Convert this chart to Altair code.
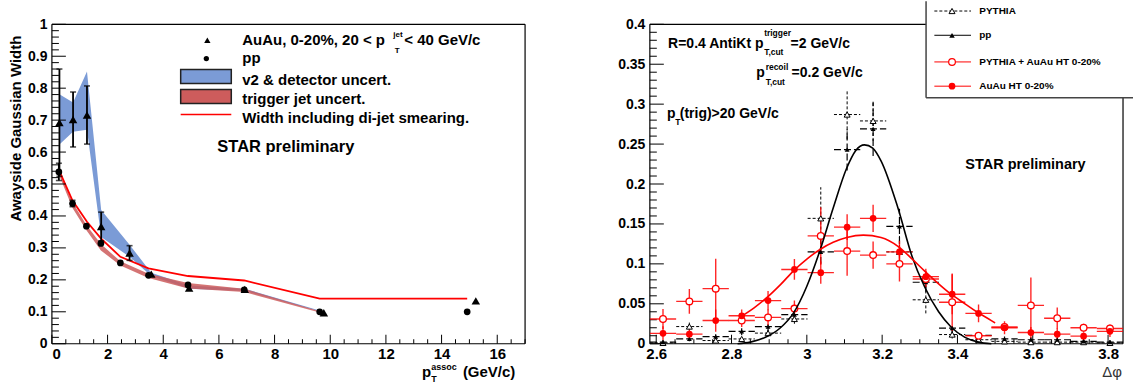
import altair as alt
import pandas as pd

# ---------------- left panel: away-side Gaussian width vs pT(assoc) ----------------
auau_pt = [0.27, 0.76, 1.26, 1.77, 2.79, 3.57, 4.93, 6.93, 9.77, 15.23]
auau_width = [0.692, 0.702, 0.716, 0.367, 0.284, 0.218, 0.174, 0.170, 0.097, 0.134]
auau_err = [0.168, 0.086, 0.091, 0.045, 0.023, 0.0, 0.0, 0.0, 0.0, 0.0]

pp_pt = [0.25, 0.74, 1.24, 1.76, 2.46, 3.47, 4.89, 6.91, 9.62, 14.92]
pp_width = [0.538, 0.439, 0.368, 0.314, 0.253, 0.214, 0.184, 0.169, 0.100, 0.100]
pp_err = [0.027, 0.010, 0.0, 0.0, 0.0, 0.0, 0.0, 0.0, 0.0, 0.0]

v2_pt = [0.27, 0.76, 1.26, 1.77, 2.79, 3.57, 4.93, 6.93, 9.77]
v2_lo = [0.624, 0.664, 0.670, 0.334, 0.272, 0.212, 0.172, 0.165, 0.098]
v2_hi = [0.781, 0.755, 0.852, 0.419, 0.310, 0.222, 0.182, 0.172, 0.100]

trig_pt = [0.25, 0.74, 1.24, 1.76, 2.46, 3.47, 4.89, 6.91, 9.62]
trig_lo = [0.530, 0.425, 0.355, 0.292, 0.245, 0.206, 0.173, 0.162, 0.098]
trig_hi = [0.545, 0.443, 0.372, 0.312, 0.258, 0.219, 0.190, 0.172, 0.102]

smear_pt = [0.27, 0.74, 1.26, 1.76, 2.46, 3.47, 4.89, 6.91, 9.62, 14.92]
smear_width = [0.540, 0.448, 0.382, 0.330, 0.272, 0.236, 0.212, 0.198, 0.141, 0.141]

# ---------------- right panel: delta-phi distributions ----------------
dphi = [2.618, 2.688, 2.758, 2.827, 2.897, 2.967, 3.037, 3.107, 3.176,
        3.246, 3.316, 3.386, 3.456, 3.525, 3.595, 3.665, 3.735, 3.805]
bin_half = 0.0349
pythia_y = [0.001, 0.0215, 0.004, 0.006, 0.0133, 0.031, 0.157, 0.287, 0.279,
            0.115, 0.055, 0.0115, 0.005, 0.003, 0.002, 0.002, 0.002, 0.001]
pythia_err = [0.001, 0.005, 0.002, 0.003, 0.004, 0.006, 0.039, 0.031, 0.025,
              0.020, 0.017, 0.005, 0.002, 0.002, 0.001, 0.001, 0.001, 0.001]
ppd_y = [0.002, 0.006, 0.009, 0.0155, 0.0215, 0.0365, 0.115, 0.243, 0.269,
         0.147, 0.077, 0.0195, 0.0104, 0.006, 0.005, 0.005, 0.003, 0.002]
ppd_err = [0.002, 0.003, 0.003, 0.005, 0.006, 0.007, 0.015, 0.026, 0.034,
           0.022, 0.012, 0.006, 0.004, 0.003, 0.003, 0.003, 0.002, 0.002]
emb_y = [0.031, 0.053, 0.069, 0.029, 0.033, 0.044, 0.135, 0.116, 0.111,
         0.100, 0.081, 0.052, 0.010, 0.021, 0.048, 0.032, 0.020, 0.019]
emb_err = [0.0125, 0.0156, 0.0375, 0.008, 0.010, 0.010, 0.036, 0.031, 0.017,
           0.022, 0.010, 0.036, 0.004, 0.005, 0.035, 0.0135, 0.005, 0.005]
ht_y = [0.013, 0.012, 0.029, 0.035, 0.054, 0.093, 0.089, 0.146, 0.157,
        0.115, 0.084, 0.062, 0.038, 0.020, 0.014, 0.012, 0.0095, 0.0155]
ht_err = [0.009, 0.006, 0.014, 0.008, 0.012, 0.013, 0.014, 0.016, 0.017,
          0.014, 0.010, 0.025, 0.011, 0.008, 0.007, 0.007, 0.005, 0.007]

# fit curves
fit_pp_x = [2.816, 2.85, 2.89, 2.93, 2.964, 3.00, 3.035, 3.07, 3.106, 3.13, 3.153,
            3.175, 3.197, 3.242, 3.279, 3.313, 3.35, 3.383, 3.42, 3.456, 3.49]
fit_pp_y = [0.000, 0.002, 0.008, 0.020, 0.038, 0.072, 0.117, 0.170, 0.220, 0.242, 0.249,
            0.245, 0.229, 0.170, 0.110, 0.071, 0.040, 0.021, 0.008, 0.002, 0.000]
fit_aa_x = [2.825, 2.86, 2.892, 2.93, 2.964, 3.00, 3.035, 3.07, 3.106, 3.15,
            3.197, 3.242, 3.28, 3.313, 3.35, 3.383, 3.42, 3.451, 3.49, 3.50]
fit_aa_y = [0.034, 0.045, 0.057, 0.074, 0.091, 0.106, 0.118, 0.127, 0.133, 0.136,
            0.133, 0.122, 0.106, 0.091, 0.075, 0.062, 0.050, 0.040, 0.029, 0.026]

W, H = 474, 320
FONT = "Liberation Sans"
ONE = pd.DataFrame({"a": [0]})


def txt(s, x, y, size, align="left", baseline="alphabetic", angle=0,
        weight="bold", color="black"):
    kw = dict(align=align, baseline=baseline, fontSize=size, font=FONT,
              fontWeight=weight, color=color)
    if angle:
        kw["angle"] = angle
    return alt.Chart(pd.DataFrame({"t": [s]})).mark_text(**kw).encode(
        x=alt.value(x), y=alt.value(y), text="t:N")


def frame():
    c = alt.Chart(ONE)
    kw = dict(color="black", strokeWidth=1.2)
    return [
        c.mark_rule(**kw).encode(x=alt.value(0), x2=alt.value(W), y=alt.value(0)),
        c.mark_rule(**kw).encode(x=alt.value(0), x2=alt.value(W), y=alt.value(H)),
        c.mark_rule(**kw).encode(x=alt.value(0), y=alt.value(0), y2=alt.value(H)),
        c.mark_rule(**kw).encode(x=alt.value(W), y=alt.value(0), y2=alt.value(H)),
    ]


def xticks(X, vals, length):
    return alt.Chart(pd.DataFrame({"v": vals})).mark_rule(color="black", strokeWidth=1).encode(
        x=X("v"), y=alt.value(H), y2=alt.value(H - length))


def yticks(Y, vals, length):
    return alt.Chart(pd.DataFrame({"v": vals})).mark_rule(color="black", strokeWidth=1).encode(
        y=Y("v"), x=alt.value(0), x2=alt.value(length))


# ======================= LEFT PANEL =======================
lx_scale = alt.Scale(domain=[0, 17], nice=False, zero=False)
ly_scale = alt.Scale(domain=[0, 1], nice=False, zero=False)
lx_axis = alt.Axis(values=[0, 2, 4, 6, 8, 10, 12, 14, 16], format="d", title=None,
                   labelFontSize=15, labelPadding=3)
ly_axis = alt.Axis(values=[0, 0.1, 0.2, 0.3, 0.4, 0.5, 0.6, 0.7, 0.8, 0.9, 1.0], title=None,
                   labelExpr="datum.value == 0 ? '0' : datum.value == 1 ? '1' : format(datum.value, '.1f')",
                   labelFontSize=14, labelPadding=5)


def LX(f):
    return alt.X(f, type="quantitative", scale=lx_scale, axis=lx_axis)


def LY(f):
    return alt.Y(f, type="quantitative", scale=ly_scale, axis=ly_axis)


auau_df = pd.DataFrame({"x": auau_pt, "y": auau_width, "e": auau_err})
auau_df["lo"] = auau_df.y - auau_df.e
auau_df["hi"] = auau_df.y + auau_df.e
auau_eb = auau_df[auau_df.e > 0]
pp_df = pd.DataFrame({"x": pp_pt, "y": pp_width, "e": pp_err})
pp_df["lo"] = pp_df.y - pp_df.e
pp_df["hi"] = pp_df.y + pp_df.e
pp_eb = pp_df[pp_df.e > 0]
v2_df = pd.DataFrame({"x": v2_pt, "lo": v2_lo, "hi": v2_hi})
trig_df = pd.DataFrame({"x": trig_pt, "lo": trig_lo, "hi": trig_hi})
smear_df = pd.DataFrame({"x": smear_pt, "y": smear_width})

left_layers = [
    alt.Chart(v2_df).mark_area(color="#7b9bd6", opacity=1).encode(x=LX("x"), y=LY("lo"), y2="hi"),
    alt.Chart(trig_df).mark_area(color="#cd5c5c", opacity=0.85).encode(x=LX("x"), y=LY("lo"), y2="hi"),
    alt.Chart(smear_df).mark_line(color="#ff0000", strokeWidth=1.8).encode(x=LX("x"), y=LY("y")),
]
for d in (auau_eb, pp_eb):
    left_layers += [
        alt.Chart(d).mark_rule(color="black", strokeWidth=1.8).encode(x=LX("x"), y=LY("lo"), y2="hi"),
        alt.Chart(d).mark_tick(color="black", orient="horizontal", size=6, thickness=1.6).encode(x=LX("x"), y=LY("lo")),
        alt.Chart(d).mark_tick(color="black", orient="horizontal", size=6, thickness=1.6).encode(x=LX("x"), y=LY("hi")),
    ]
left_layers += [
    alt.Chart(pp_df).mark_circle(color="black", size=45, opacity=1).encode(x=LX("x"), y=LY("y")),
    alt.Chart(auau_df).mark_point(shape="triangle-up", filled=True, color="black", size=72, opacity=1).encode(x=LX("x"), y=LY("y")),
]
left_layers += frame()
left_layers += [
    xticks(LX, [0, 2, 4, 6, 8, 10, 12, 14, 16], 9),
    xticks(LX, [i * 0.5 for i in range(35) if i % 4], 4.5),
    yticks(LY, [i * 0.1 for i in range(11)], 14),
    yticks(LY, [round(i * 0.02, 3) for i in range(51) if i % 5], 7),
]
# legend of the left panel
c1 = alt.Chart(ONE)
left_layers += [
    c1.mark_point(shape="triangle-up", filled=True, color="black", size=40, opacity=1).encode(x=alt.value(155.7), y=alt.value(16)),
    c1.mark_circle(color="black", size=28, opacity=1).encode(x=alt.value(154.7), y=alt.value(34.3)),
    c1.mark_rect(fill="#7b9bd6", stroke="#222222", strokeWidth=1.5).encode(
        x=alt.value(129), x2=alt.value(179.7), y=alt.value(45.3), y2=alt.value(59.3)),
    c1.mark_rect(fill="#cd5c5c", stroke="#222222", strokeWidth=1.5).encode(
        x=alt.value(129), x2=alt.value(179.7), y=alt.value(65.3), y2=alt.value(79.3)),
    c1.mark_rule(color="#ff0000", strokeWidth=1.6).encode(
        x=alt.value(129), x2=alt.value(179.7), y=alt.value(90.3)),
    txt("AuAu, 0-20%, 20 < p", 190.7, 21, 15),
    txt("jet", 342, 13, 8),
    txt("T", 343.5, 28.5, 8),
    txt("< 40 GeV/c", 353, 21, 15),
    txt("pp", 190.7, 39, 15),
    txt("v2 & detector uncert.", 190.7, 61, 15),
    txt("trigger jet uncert.", 190.7, 79.7, 15),
    txt("Width including di-jet smearing.", 190.7, 99.3, 15),
    txt("STAR preliminary", 165.7, 128, 16.5),
    txt("Awayside Gaussian Width", -36, 104.5, 15, align="center", baseline="middle", angle=270),
    txt("p", 370.7, 353, 15),
    txt("assoc", 380, 346.5, 9),
    txt("T", 380, 358, 9),
    txt("(GeV/c)", 411.7, 353, 15),
]
left = alt.layer(*left_layers).properties(width=W, height=H)

# ======================= RIGHT PANEL =======================
rx_scale = alt.Scale(domain=[2.5831, 3.8397], nice=False, zero=False)
ry_scale = alt.Scale(domain=[0, 0.4], nice=False, zero=False)
rx_axis = alt.Axis(values=[2.6, 2.8, 3.0, 3.2, 3.4, 3.6, 3.8], format="~g", title=None,
                   labelFontSize=15, labelPadding=3)
ry_axis = alt.Axis(values=[0, 0.05, 0.1, 0.15, 0.2, 0.25, 0.3, 0.35, 0.4], format="~g", title=None,
                   labelFontSize=14, labelPadding=5)


def RX(f):
    return alt.X(f, type="quantitative", scale=rx_scale, axis=rx_axis)


def RY(f):
    return alt.Y(f, type="quantitative", scale=ry_scale, axis=ry_axis)


def series_df(yv, ev):
    d = pd.DataFrame({"x": dphi, "y": yv, "e": ev})
    d["lo"] = d.y - d.e
    d["hi"] = d.y + d.e
    d["xl"] = d.x - bin_half
    d["xr"] = d.x + bin_half
    return d


py_df = series_df(pythia_y, pythia_err)
ppd_df = series_df(ppd_y, ppd_err)
emb_df = series_df(emb_y, emb_err)
ht_df = series_df(ht_y, ht_err)


def errbars(d, color, width, dash=None, opacity=1.0):
    kw = dict(color=color, strokeWidth=width, opacity=opacity, clip=True)
    if dash:
        kw["strokeDash"] = dash
    return [
        alt.Chart(d).mark_rule(**kw).encode(x=RX("xl"), x2="xr", y=RY("y")),
        alt.Chart(d).mark_rule(**kw).encode(x=RX("x"), y=RY("lo"), y2="hi"),
    ]


right_layers = frame()
right_layers += [
    xticks(RX, [2.6, 2.8, 3.0, 3.2, 3.4, 3.6, 3.8], 9),
    xticks(RX, [round(2.6 + 0.05 * i, 3) for i in range(25) if i % 4], 4.5),
    yticks(RY, [round(i * 0.05, 3) for i in range(9)], 14),
    yticks(RY, [round(i * 0.01, 3) for i in range(41) if i % 5], 7),
]
right_layers += errbars(py_df, "black", 1, [3, 2])
right_layers += errbars(ppd_df, "black", 1.2, [7, 3])
right_layers += errbars(emb_df, "#ff0000", 1.4, None, 0.85)
right_layers += errbars(ht_df, "#ff0000", 1.4, None, 0.85)
right_layers += [
    alt.Chart(py_df).mark_point(shape="triangle-up", filled=False, fill="white", color="black",
                                strokeWidth=1, size=36, opacity=1).encode(x=RX("x"), y=RY("y")),
    alt.Chart(ppd_df).mark_point(shape="triangle-up", filled=True, color="black", size=24,
                                 opacity=1).encode(x=RX("x"), y=RY("y")),
    alt.Chart(emb_df).mark_point(shape="circle", filled=False, fill="white", color="#ff0000",
                                 strokeWidth=1.3, size=45, opacity=1).encode(x=RX("x"), y=RY("y")),
    alt.Chart(ht_df).mark_circle(color="#ff0000", size=45, opacity=1).encode(x=RX("x"), y=RY("y")),
    alt.Chart(pd.DataFrame({"x": fit_pp_x, "y": fit_pp_y})).mark_line(
        color="black", strokeWidth=1.6, interpolate="monotone").encode(x=RX("x"), y=RY("y")),
    alt.Chart(pd.DataFrame({"x": fit_aa_x, "y": fit_aa_y})).mark_line(
        color="#ff0000", strokeWidth=1.6, interpolate="monotone").encode(x=RX("x"), y=RY("y")),
]
right_layers += [
    txt("R=0.4 AntiKt p", 18.3, 23.7, 14),
    txt("trigger", 114.5, 12, 8.5),
    txt("T,cut", 114.5, 30.5, 8.5),
    txt("=2 GeV/c", 141, 23.7, 14),
    txt("p", 106.7, 53, 14),
    txt("recoil", 116, 46, 8.5),
    txt("T,cut", 116, 60.5, 8.5),
    txt("=0.2 GeV/c", 142, 53, 14),
    txt("p", 17.3, 94.3, 14),
    txt("T", 25.5, 101, 8.5),
    txt("(trig)>20 GeV/c", 30, 94.3, 14),
    txt("STAR preliminary", 316, 144.7, 14.5),
    txt("\u0394\u03c6", 473, 353, 15, align="right", weight="normal", color="#333333"),
]
# legend box of the right panel
c2 = alt.Chart(ONE)
LX0, LX1, LY0, LY1 = 276.7, 484, -23, 73.7
right_layers += [
    c2.mark_rect(fill="white").encode(x=alt.value(LX0), x2=alt.value(LX1), y=alt.value(LY0), y2=alt.value(LY1)),
    c2.mark_rule(color="#444444", strokeWidth=1.5).encode(x=alt.value(LX0), y=alt.value(LY0), y2=alt.value(LY1)),
    c2.mark_rule(color="#444444", strokeWidth=1.5).encode(x=alt.value(LX0), x2=alt.value(LX1), y=alt.value(LY1)),
]
rows = [("PYTHIA", -13.3), ("pp", 11), ("PYTHIA + AuAu HT 0-20%", 37.7), ("AuAu HT 0-20%", 62)]
sx0, sx1, sxm = 285, 321.7, 302.7
right_layers += [
    c2.mark_rule(color="black", strokeWidth=1, strokeDash=[3, 2]).encode(x=alt.value(sx0), x2=alt.value(sx1), y=alt.value(rows[0][1])),
    c2.mark_point(shape="triangle-up", filled=False, fill="white", color="black", strokeWidth=1, size=36, opacity=1).encode(x=alt.value(sxm), y=alt.value(rows[0][1])),
    c2.mark_rule(color="black", strokeWidth=1).encode(x=alt.value(sx0), x2=alt.value(sx1), y=alt.value(rows[1][1])),
    c2.mark_point(shape="triangle-up", filled=True, color="black", size=30, opacity=1).encode(x=alt.value(sxm), y=alt.value(rows[1][1])),
    c2.mark_rule(color="#ff0000", strokeWidth=1).encode(x=alt.value(sx0), x2=alt.value(sx1), y=alt.value(rows[2][1])),
    c2.mark_point(shape="circle", filled=False, fill="white", color="#ff0000", strokeWidth=1.2, size=45, opacity=1).encode(x=alt.value(sxm), y=alt.value(rows[2][1])),
    c2.mark_rule(color="#ff0000", strokeWidth=1).encode(x=alt.value(sx0), x2=alt.value(sx1), y=alt.value(rows[3][1])),
    c2.mark_circle(color="#ff0000", size=45, opacity=1).encode(x=alt.value(sxm), y=alt.value(rows[3][1])),
]
for label, ry in rows:
    right_layers.append(txt(label, 330, ry, 10, baseline="middle"))

right = alt.layer(*right_layers).properties(width=W, height=H)

chart = alt.hconcat(left, right, spacing=125, bounds="flush").properties(
    padding={"left": 8, "top": 0, "right": 0, "bottom": 0}
).configure_view(stroke=None).configure_axis(
    domain=False, ticks=False, grid=False, labelFont=FONT, labelFontWeight="bold",
    labelColor="black", labelOverlap=False
)

chart.save("out.html", embed_options={"renderer": "svg", "actions": False})
